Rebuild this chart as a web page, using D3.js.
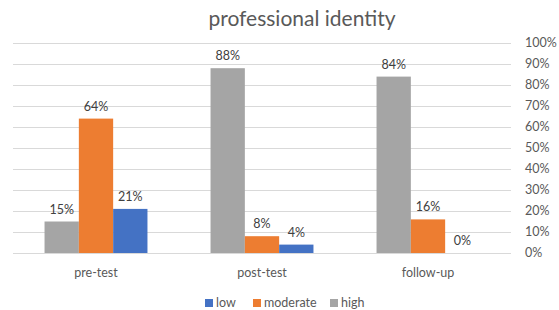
<!DOCTYPE html>
<html>
<head>
<meta charset="utf-8">
<script src="https://cdn.jsdelivr.net/npm/d3@7"></script>
<style>
  body { margin: 0; background: #fff; }
  svg { display: block; font-family: Lato, "Open Sans", sans-serif; }
</style>
</head>
<body>
<div id="chart"></div>
<script>
const categories = ["pre-test", "post-test", "follow-up"];
const seriesNames = ["high", "moderate", "low"];
const high = [15, 88, 84];
const moderate = [64, 8, 16];
const low = [21, 4, 0];
const ticks = [0, 10, 20, 30, 40, 50, 60, 70, 80, 90, 100];
const legendOrder = ["low", "moderate", "high"];

const colors = { high: "#a5a5a5", moderate: "#ed7d31", low: "#4472c4" };
const values = { high, moderate, low };

const width = 559, height = 310;
const svg = d3.select("#chart").append("svg")
  .attr("width", width)
  .attr("height", height);

const x = d3.scaleBand()
  .domain(categories)
  .range([13, 511])
  .paddingInner(0.38)
  .paddingOuter(0.19);

const xs = d3.scaleBand()
  .domain(seriesNames)
  .range([0, x.bandwidth()]);

const y = d3.scaleLinear()
  .domain([0, 100])
  .range([253, 43]);

// gridlines
svg.append("g")
  .selectAll("line")
  .data(ticks)
  .join("line")
  .attr("x1", 13)
  .attr("x2", 511)
  .attr("y1", d => y(d) + 0.5)
  .attr("y2", d => y(d) + 0.5)
  .attr("stroke", "#d9d9d9")
  .attr("stroke-width", 1);

// right axis labels
svg.append("g")
  .selectAll("text")
  .data(ticks)
  .join("text")
  .attr("x", 525)
  .attr("y", d => y(d))
  .attr("dy", "0.35em")
  .attr("font-size", 12.5)
  .attr("fill", "#595959")
  .text(d => d + "%");

// bars
const rows = [];
categories.forEach((c, i) => {
  seriesNames.forEach(s => rows.push({ cat: c, series: s, value: values[s][i] }));
});

svg.append("g")
  .selectAll("rect")
  .data(rows)
  .join("rect")
  .attr("x", d => x(d.cat) + xs(d.series))
  .attr("y", d => y(d.value))
  .attr("width", xs.bandwidth())
  .attr("height", d => y(0) - y(d.value))
  .attr("fill", d => colors[d.series]);

// value labels
svg.append("g")
  .selectAll("text")
  .data(rows)
  .join("text")
  .attr("x", d => x(d.cat) + xs(d.series) + xs.bandwidth() / 2)
  .attr("y", d => y(d.value) - 8)
  .attr("text-anchor", "middle")
  .attr("font-size", 12.5)
  .attr("fill", "#404040")
  .text(d => d.value + "%");

// category labels
svg.append("g")
  .selectAll("text")
  .data(categories)
  .join("text")
  .attr("x", d => x(d) + x.bandwidth() / 2)
  .attr("y", 277)
  .attr("text-anchor", "middle")
  .attr("font-size", 12.5)
  .attr("fill", "#595959")
  .text(d => d);

// title
svg.append("text")
  .attr("x", 302)
  .attr("y", 26)
  .attr("text-anchor", "middle")
  .attr("font-size", 21)
  .attr("fill", "#595959")
  .text("professional identity");

// legend
const legendX = [205, 253, 330];
const legend = svg.append("g")
  .selectAll("g")
  .data(legendOrder)
  .join("g")
  .attr("transform", (d, i) => `translate(${legendX[i]},303)`);

legend.append("rect")
  .attr("x", 0)
  .attr("y", -4)
  .attr("width", 8)
  .attr("height", 8)
  .attr("fill", d => colors[d]);

legend.append("text")
  .attr("x", 11)
  .attr("y", 0)
  .attr("dy", "0.35em")
  .attr("font-size", 12.5)
  .attr("fill", "#595959")
  .text(d => d);
</script>
</body>
</html>
